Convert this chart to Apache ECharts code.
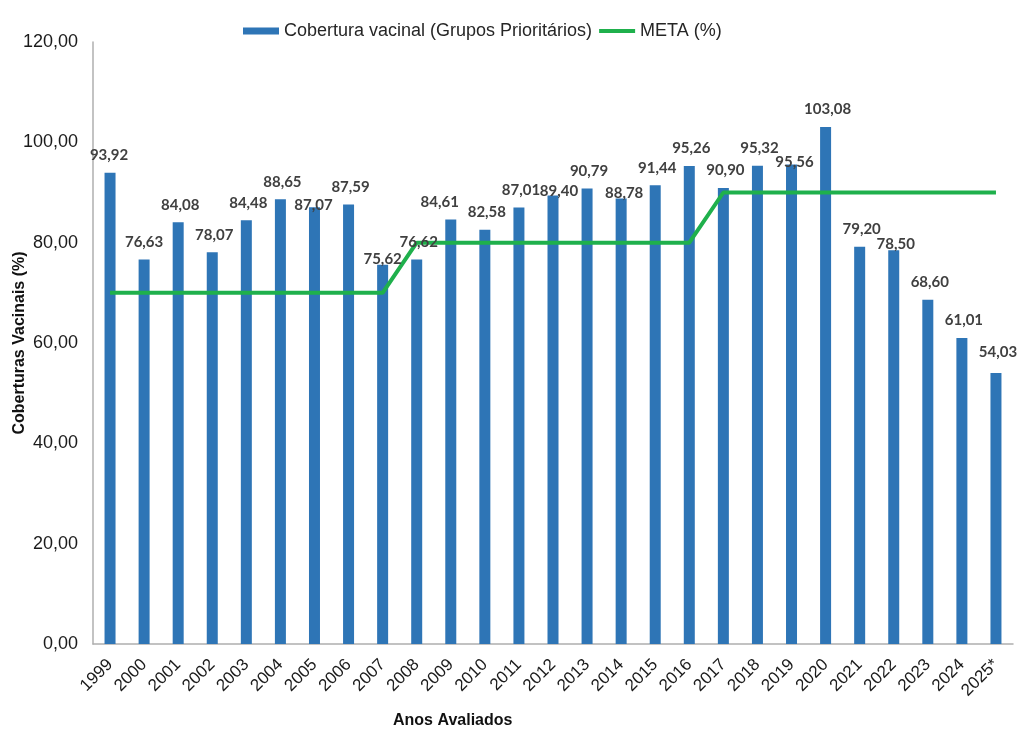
<!DOCTYPE html>
<html>
<head>
<meta charset="utf-8">
<script src="https://cdn.jsdelivr.net/npm/echarts@6/dist/echarts.min.js"></script>
<style>
  html, body { margin: 0; padding: 0; background: #ffffff; }
  #chart { width: 1018px; height: 733px; }
</style>
</head>
<body>
<div id="chart"></div>
<script>
// Anos avaliados
const anos = ['1999','2000','2001','2002','2003','2004','2005','2006','2007','2008',
  '2009','2010','2011','2012','2013','2014','2015','2016','2017','2018',
  '2019','2020','2021','2022','2023','2024','2025*'];

// Cobertura vacinal nos grupos prioritários (%)
const cobertura = [93.92, 76.63, 84.08, 78.07, 84.48, 88.65, 87.07, 87.59, 75.62, 76.62,
  84.61, 82.58, 87.01, 89.40, 90.79, 88.78, 91.44, 95.26, 90.90, 95.32,
  95.56, 103.08, 79.20, 78.50, 68.60, 61.01, 54.03];

// Meta de cobertura (%)
const meta = [70, 70, 70, 70, 70, 70, 70, 70, 70, 80,
  80, 80, 80, 80, 80, 80, 80, 80, 90, 90,
  90, 90, 90, 90, 90, 90, 90];

const yTicks = { min: 0, max: 120, interval: 20 };

// Ajustes de posição de alguns rótulos (px) para evitar sobreposição
const labelNudge = {
  '1999': [-1, 0], '2000': [0, 0], '2005': [-1, 15], '2007': [0, 12],
  '2009': [-11, 0], '2012': [6, 13], '2014': [3, 12], '2019': [3, 15],
  '2022': [2, 11], '2025*': [2, -3]
};

const fmt = v => v.toFixed(2).replace('.', ',');

const BLUE = '#2E75B6';
const GREEN = '#1FB04C';
const AXIS_GRAY = '#AFAFAF';

const labelData = cobertura.map((v, i) => {
  const nudge = labelNudge[anos[i]] || [2, 0];
  return { value: v, label: { offset: nudge } };
});

const chart = echarts.init(document.getElementById('chart'), null, { renderer: 'canvas' });

chart.setOption({
  backgroundColor: '#ffffff',
  animation: false,
  grid: { left: 93, right: 5, top: 42, bottom: 89, containLabel: false, outerBoundsMode: 'none' },
  legend: {
    left: 238,
    top: 17,
    itemGap: 5,
    itemWidth: 36,
    itemHeight: 7,
    textStyle: { fontFamily: 'Liberation Sans, Arial, sans-serif', fontSize: 18, color: '#262626' },
    data: [
      { name: 'Cobertura vacinal (Grupos Prioritários)', icon: 'rect' },
      { name: 'META (%)', itemStyle: { opacity: 0 }, lineStyle: { width: 4, color: GREEN } }
    ]
  },
  xAxis: {
    type: 'category',
    data: anos,
    boundaryGap: true,
    axisLine: { show: true, lineStyle: { color: AXIS_GRAY, width: 1.5 } },
    axisTick: { show: false },
    axisLabel: {
      interval: 0,
      rotate: 45,
      margin: 18,
      fontFamily: 'Liberation Sans, Arial, sans-serif',
      fontSize: 17,
      color: '#1a1a1a'
    }
  },
  yAxis: {
    type: 'value',
    min: yTicks.min,
    max: yTicks.max,
    interval: yTicks.interval,
    splitLine: { show: false },
    axisLine: { show: true, lineStyle: { color: AXIS_GRAY, width: 1.5 } },
    axisTick: { show: false },
    axisLabel: {
      margin: 15,
      formatter: v => fmt(v),
      fontFamily: 'Liberation Sans, Arial, sans-serif',
      fontSize: 18,
      color: '#1a1a1a'
    },
    name: 'Coberturas Vacinais (%)',
    nameLocation: 'middle',
    nameGap: 65,
    nameMoveOverlap: false,
    nameTextStyle: {
      fontFamily: 'Liberation Sans, Arial, sans-serif',
      fontSize: 16,
      fontWeight: 'bold',
      color: '#111111'
    }
  },
  graphic: [{
    type: 'text',
    left: 393,
    top: 713,
    style: {
      text: 'Anos Avaliados',
      font: 'bold 16px "Liberation Sans", Arial, sans-serif',
      fill: '#111111'
    }
  }],
  series: [
    {
      name: 'Cobertura vacinal (Grupos Prioritários)',
      type: 'bar',
      data: cobertura,
      barWidth: 11,
      itemStyle: { color: BLUE },
      z: 2
    },
    {
      name: 'META (%)',
      type: 'line',
      data: meta,
      symbol: 'none',
      lineStyle: { color: GREEN, width: 4 },
      itemStyle: { color: GREEN },
      z: 3
    },
    {
      // camada só com os rótulos de valor, acima da linha da meta
      name: 'rotulos',
      type: 'bar',
      data: labelData,
      barWidth: 11,
      barGap: '-100%',
      itemStyle: { color: 'rgba(0,0,0,0)' },
      silent: true,
      z: 4,
      label: {
        show: true,
        position: 'top',
        distance: 10,
        formatter: p => fmt(p.value),
        fontFamily: 'Lato, "Open Sans", sans-serif',
        fontWeight: 'bold',
        fontSize: 15,
        color: '#404040'
      }
    }
  ]
});
</script>
</body>
</html>
